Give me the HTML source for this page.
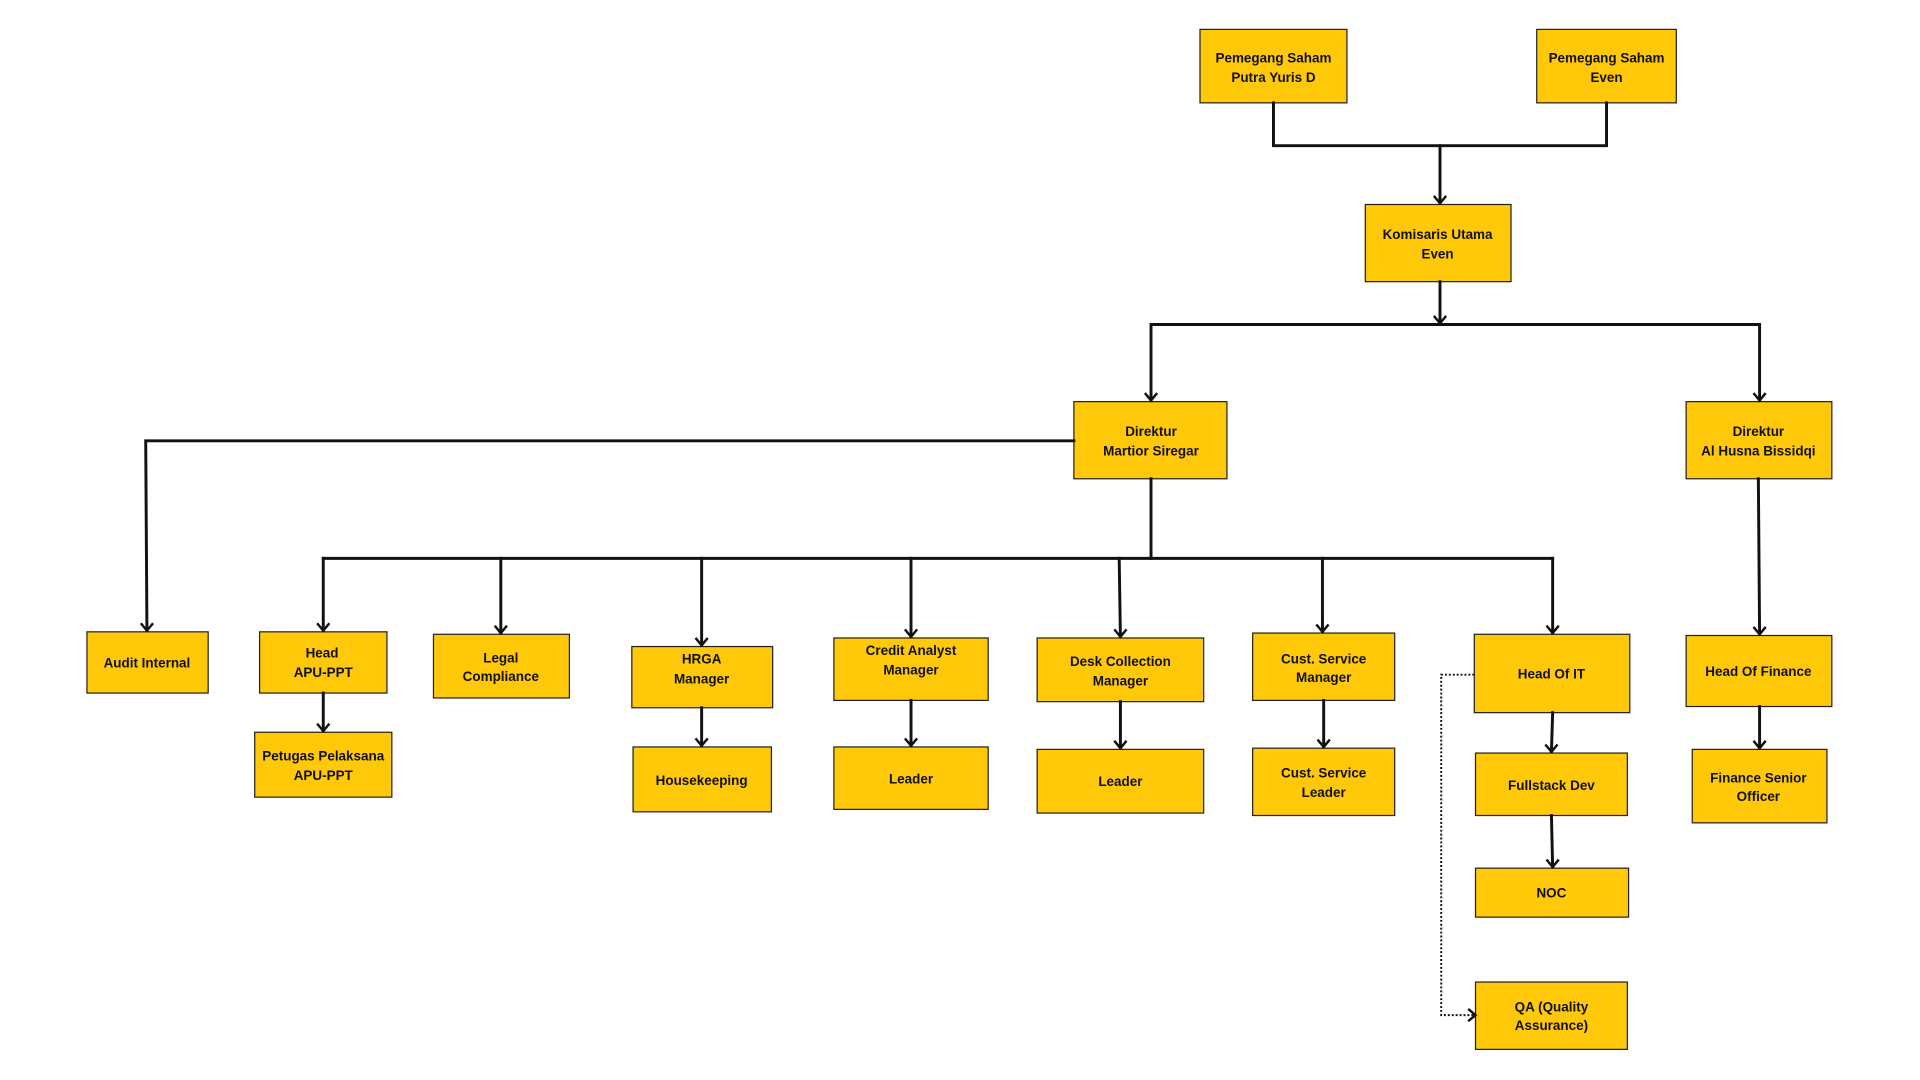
<!DOCTYPE html>
<html><head><meta charset="utf-8"><style>
html,body{margin:0;padding:0;background:#fff;}
svg{display:block;}
text{font-family:"Liberation Sans",sans-serif;font-weight:bold;font-size:11px;fill:#111;text-anchor:middle;}
</style></head><body>
<svg width="1920" height="1080" viewBox="0 0 1568 882" preserveAspectRatio="none" xmlns="http://www.w3.org/2000/svg">
<g fill="#FFC808" stroke="#222" stroke-width="1">
<rect x="980" y="24" width="120" height="60"/>
<rect x="1255" y="24" width="114" height="60"/>
<rect x="1115" y="167" width="119" height="63"/>
<rect x="877" y="328" width="125" height="63"/>
<rect x="1377" y="328" width="119" height="63"/>
<rect x="71" y="516" width="99" height="50"/>
<rect x="212" y="516" width="104" height="50"/>
<rect x="208" y="598" width="112" height="53"/>
<rect x="354" y="518" width="111" height="52"/>
<rect x="516" y="528" width="115" height="50"/>
<rect x="517" y="610" width="113" height="53"/>
<rect x="681" y="521" width="126" height="51"/>
<rect x="681" y="610" width="126" height="51"/>
<rect x="847" y="521" width="136" height="52"/>
<rect x="847" y="612" width="136" height="52"/>
<rect x="1023" y="517" width="116" height="55"/>
<rect x="1023" y="611" width="116" height="55"/>
<rect x="1204" y="518" width="127" height="64"/>
<rect x="1205" y="615" width="124" height="51"/>
<rect x="1205" y="709" width="125" height="40"/>
<rect x="1205" y="802" width="124" height="55"/>
<rect x="1377" y="519" width="119" height="58"/>
<rect x="1382" y="612" width="110" height="60"/>
</g>
<g fill="none" stroke="#111" stroke-width="2.4" stroke-linecap="square">
<polyline points="1040,84 1040,119 1312,119 1312,84"/>
<line x1="1176" y1="119" x2="1176" y2="166"/>
<line x1="1176" y1="230" x2="1176" y2="264"/>
<polyline points="940,327 940,265 1437,265 1437,327"/>
<polyline points="877,360 119,360 120,515"/>
<line x1="940" y1="391" x2="940" y2="456"/>
<line x1="264" y1="456" x2="1268" y2="456"/>
<line x1="264" y1="456" x2="264" y2="515"/>
<line x1="409" y1="456" x2="409" y2="517"/>
<line x1="573" y1="456" x2="573" y2="527"/>
<line x1="744" y1="456" x2="744" y2="520"/>
<line x1="914" y1="456" x2="915" y2="520"/>
<line x1="1080" y1="456" x2="1080" y2="516"/>
<line x1="1268" y1="456" x2="1268" y2="517"/>
<line x1="1436" y1="391" x2="1437" y2="518"/>
<line x1="264" y1="566" x2="264" y2="597"/>
<line x1="573" y1="578" x2="573" y2="609"/>
<line x1="744" y1="572" x2="744" y2="609"/>
<line x1="915" y1="573" x2="915" y2="611"/>
<line x1="1081" y1="572" x2="1081" y2="610"/>
<line x1="1268" y1="582" x2="1267" y2="614"/>
<line x1="1267" y1="666" x2="1268" y2="708"/>
<line x1="1437" y1="577" x2="1437" y2="611"/>
</g>
<g fill="none" stroke="#111" stroke-width="2" stroke-linejoin="miter">
<polyline points="1171,160 1176,166 1181,160"/>
<polyline points="1171,258 1176,264 1181,258"/>
<polyline points="935,321 940,327 945,321"/>
<polyline points="1432,321 1437,327 1442,321"/>
<polyline points="115,509 120,515 125,509"/>
<polyline points="259,509 264,515 269,509"/>
<polyline points="404,511 409,517 414,511"/>
<polyline points="568,521 573,527 578,521"/>
<polyline points="739,514 744,520 749,514"/>
<polyline points="910,514 915,520 920,514"/>
<polyline points="1075,510 1080,516 1085,510"/>
<polyline points="1263,511 1268,517 1273,511"/>
<polyline points="1432,512 1437,518 1442,512"/>
<polyline points="259,591 264,597 269,591"/>
<polyline points="568,603 573,609 578,603"/>
<polyline points="739,603 744,609 749,603"/>
<polyline points="910,605 915,611 920,605"/>
<polyline points="1076,604 1081,610 1086,604"/>
<polyline points="1262,608 1267,614 1272,608"/>
<polyline points="1263,702 1268,708 1273,702"/>
<polyline points="1432,605 1437,611 1442,605"/>
<polyline points="1199,824 1205,829 1199,834"/>
</g>
<polyline points="1204,551 1177,551 1177,829 1204,829" fill="none" stroke="#111" stroke-width="1.6" stroke-dasharray="1.6,1.6"/>
<text x="1040" y="51">Pemegang Saham</text><text x="1040" y="67">Putra Yuris D</text>
<text x="1312" y="51">Pemegang Saham</text><text x="1312" y="67">Even</text>
<text x="1174" y="195">Komisaris Utama</text><text x="1174" y="211">Even</text>
<text x="940" y="356">Direktur</text><text x="940" y="372">Martior Siregar</text>
<text x="1436" y="356">Direktur</text><text x="1436" y="372">Al Husna Bissidqi</text>
<text x="120" y="545">Audit Internal</text>
<text x="263" y="537">Head</text><text x="264" y="553">APU-PPT</text>
<text x="264" y="621">Petugas Pelaksana</text><text x="264" y="637">APU-PPT</text>
<text x="409" y="541">Legal</text><text x="409" y="556">Compliance</text>
<text x="573" y="542">HRGA</text><text x="573" y="558">Manager</text>
<text x="573" y="641">Housekeeping</text>
<text x="744" y="535">Credit Analyst</text><text x="744" y="551">Manager</text>
<text x="744" y="640">Leader</text>
<text x="915" y="544">Desk Collection</text><text x="915" y="560">Manager</text>
<text x="915" y="642">Leader</text>
<text x="1081" y="542">Cust. Service</text><text x="1081" y="557">Manager</text>
<text x="1081" y="635">Cust. Service</text><text x="1081" y="651">Leader</text>
<text x="1267" y="554">Head Of IT</text>
<text x="1267" y="645">Fullstack Dev</text>
<text x="1267" y="733">NOC</text>
<text x="1267" y="826">QA (Quality</text><text x="1267" y="841">Assurance)</text>
<text x="1436" y="552">Head Of Finance</text>
<text x="1436" y="639">Finance Senior</text><text x="1436" y="654">Officer</text>
</svg>
</body></html>
